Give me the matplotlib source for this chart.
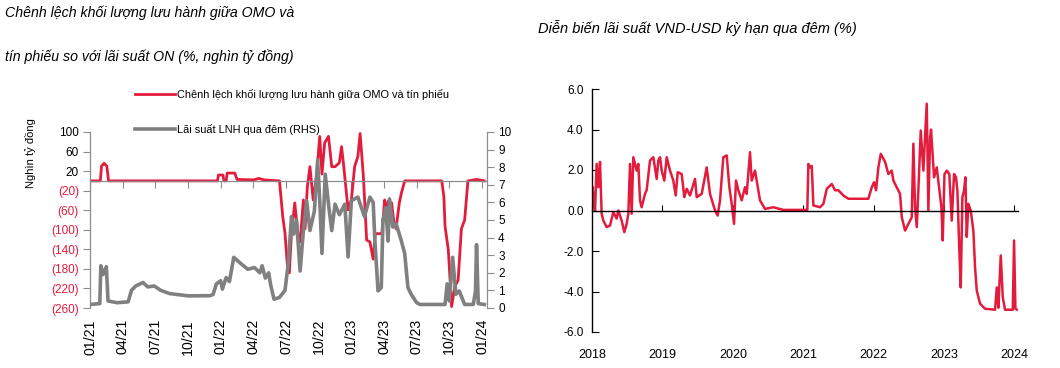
import matplotlib
matplotlib.use("Agg")
import matplotlib.pyplot as plt
from matplotlib import font_manager
from matplotlib.ticker import FixedLocator, FuncFormatter

# ---- left chart: OMO/T-bill gap (thousand bn VND) vs overnight interbank rate
gap_x = [2021.000, 2021.079, 2021.088, 2021.108, 2021.129, 2021.142, 2021.975, 2021.983,
         2022.017, 2022.025, 2022.042, 2022.050, 2022.108, 2022.125, 2022.250, 2022.292,
         2022.333, 2022.450, 2022.475, 2022.492, 2022.513, 2022.525, 2022.542, 2022.567,
         2022.592, 2022.608, 2022.633, 2022.646, 2022.663, 2022.683, 2022.708, 2022.733,
         2022.758, 2022.775, 2022.796, 2022.825, 2022.850, 2022.875, 2022.908, 2022.925,
         2022.942, 2022.975, 2023.000, 2023.025, 2023.050, 2023.067, 2023.092, 2023.117,
         2023.142, 2023.167, 2023.183, 2023.233, 2023.242, 2023.255, 2023.267, 2023.281,
         2023.308, 2023.325, 2023.342, 2023.367, 2023.383, 2023.408, 2023.692, 2023.708,
         2023.717, 2023.742, 2023.767, 2023.792, 2023.817, 2023.842, 2023.867, 2023.892,
         2023.958, 2024.017]
gap_val = [0, 0, 30, 36, 30, 0, 0, 12,
           12, 0, 0, 16, 16, 3, 2, 5,
           2, 0, -73, -107, -182, -188, -107, -45,
           -111, -125, -39, -98, -12, 29, -39, 9,
           91, 14, 78, 91, 29, 29, 37, 70,
           29, -59, -39, 29, 50, 97, 9, -121,
           -125, -160, -108, -108, -80, -39, -65, -42,
           -45, -84, -98, -45, -25, 0, 0, -33,
           -93, -141, -257, -216, -203, -98, -80, 0,
           3, 0]

on_x = [2021.000, 2021.075, 2021.083, 2021.100, 2021.125, 2021.138, 2021.208, 2021.292,
        2021.317, 2021.350, 2021.405, 2021.442, 2021.492, 2021.542, 2021.608, 2021.750,
        2021.917, 2021.942, 2021.967, 2022.000, 2022.013, 2022.042, 2022.067, 2022.100,
        2022.158, 2022.208, 2022.258, 2022.300, 2022.317, 2022.342, 2022.367, 2022.383,
        2022.408, 2022.450, 2022.492, 2022.517, 2022.542, 2022.558, 2022.580, 2022.608,
        2022.633, 2022.658, 2022.683, 2022.717, 2022.742, 2022.758, 2022.775, 2022.800,
        2022.825, 2022.850, 2022.875, 2022.908, 2022.950, 2022.975, 2023.000, 2023.050,
        2023.100, 2023.142, 2023.167, 2023.179, 2023.204, 2023.229, 2023.242, 2023.263,
        2023.281, 2023.292, 2023.317, 2023.342, 2023.383, 2023.408, 2023.433, 2023.458,
        2023.500, 2023.525, 2023.717, 2023.733, 2023.750, 2023.775, 2023.800, 2023.825,
        2023.867, 2023.933, 2023.950, 2023.958, 2023.971, 2024.017]
on_val = [0.2, 0.25, 2.4, 1.9, 2.35, 0.4, 0.3, 0.35,
          1.0, 1.25, 1.45, 1.2, 1.25, 1.0, 0.82, 0.69,
          0.7, 0.77, 1.37, 1.55, 1.07, 1.73, 1.5, 2.88,
          2.5, 2.2, 2.3, 2.0, 2.4, 1.7, 2.0, 1.3,
          0.5, 0.6, 1.0, 2.5, 5.2, 4.2, 5.0, 2.1,
          4.4, 6.1, 4.4, 5.5, 8.4, 6.1, 3.1, 7.6,
          5.9, 4.4, 5.9, 5.3, 5.9, 2.9, 6.1, 6.3,
          5.2, 6.3, 6.0, 4.0, 0.97, 1.16, 5.0, 5.7,
          3.8, 6.2, 4.6, 4.8, 3.8, 3.1, 1.16, 0.78,
          0.3, 0.2, 0.2, 1.37, 0.4, 2.88, 0.78, 0.97,
          0.2, 0.2, 0.97, 3.6, 0.25, 0.2]

left_xticks = [2021 + 0.25 * i for i in range(13)]
left_xlabels = ["01/21", "04/21", "07/21", "10/21", "01/22", "04/22", "07/22",
                "10/22", "01/23", "04/23", "07/23", "10/23", "01/24"]
left_yticks = [100, 60, 20, -20, -60, -100, -140, -180, -220, -260]
right_yticks = list(range(0, 11))

# ---- right chart: VND-USD overnight spread (%)
spr_x = [2018.000, 2018.010, 2018.019, 2018.043, 2018.066, 2018.090, 2018.114, 2018.137,
         2018.161, 2018.208, 2018.256, 2018.303, 2018.350, 2018.374, 2018.421, 2018.459,
         2018.492, 2018.516, 2018.540, 2018.563, 2018.587, 2018.634, 2018.658, 2018.682,
         2018.705, 2018.753, 2018.776, 2018.824, 2018.871, 2018.919, 2018.942, 2018.966,
         2018.990, 2019.027, 2019.061, 2019.108, 2019.155, 2019.189, 2019.217, 2019.274,
         2019.311, 2019.345, 2019.392, 2019.463, 2019.487, 2019.558, 2019.629, 2019.676,
         2019.747, 2019.785, 2019.818, 2019.865, 2019.913, 2019.951, 2019.984, 2020.017,
         2020.045, 2020.078, 2020.126, 2020.173, 2020.197, 2020.244, 2020.268, 2020.315,
         2020.362, 2020.386, 2020.457, 2020.575, 2020.717, 2021.058, 2021.073, 2021.097,
         2021.121, 2021.144, 2021.239, 2021.286, 2021.334, 2021.405, 2021.452, 2021.499,
         2021.570, 2021.641, 2021.925, 2021.973, 2022.006, 2022.034, 2022.067, 2022.101,
         2022.162, 2022.209, 2022.257, 2022.280, 2022.328, 2022.375, 2022.399, 2022.446,
         2022.493, 2022.541, 2022.564, 2022.588, 2022.612, 2022.635, 2022.669, 2022.706,
         2022.754, 2022.777, 2022.801, 2022.815, 2022.858, 2022.896, 2022.933, 2022.962,
         2022.981, 2023.006, 2023.040, 2023.074, 2023.109, 2023.142, 2023.170, 2023.189,
         2023.217, 2023.237, 2023.260, 2023.284, 2023.303, 2023.322, 2023.345, 2023.379,
         2023.416, 2023.440, 2023.464, 2023.511, 2023.582, 2023.724, 2023.749, 2023.771,
         2023.805, 2023.834, 2023.866, 2023.976, 2023.994, 2024.013, 2024.036]
spr_val = [0.0, 1.15, 0.66, 0.0, 2.3, 1.15, 2.4, -0.16,
           -0.5, -0.82, -0.74, -0.08, -0.4, 0.0, -0.5, -1.07,
           -0.66, -0.16, 2.3, -0.16, 2.63, 1.97, 2.3, 0.5,
           0.16, 0.82, 1.0, 2.47, 2.63, 1.56, 2.47, 2.63,
           1.97, 1.48, 2.63, 1.97, 1.48, 0.74, 1.89, 1.8,
           0.66, 1.07, 0.74, 1.56, 0.66, 0.82, 2.13, 0.82,
           0.0, -0.25, 0.5, 2.63, 2.72, 1.15, 0.33, -0.66,
           1.48, 1.0, 0.5, 1.15, 0.82, 2.88, 1.48, 1.97,
           1.0, 0.5, 0.08, 0.16, 0.03, 0.03, 2.3, 2.13,
           2.2, 0.25, 0.16, 0.33, 1.07, 1.31, 1.0, 1.0,
           0.74, 0.58, 0.58, 1.15, 1.4, 1.0, 2.13, 2.8,
           2.4, 1.8, 1.97, 1.48, 1.15, 0.82, -0.33, -0.99,
           -0.66, -0.33, 3.3, 0.16, -0.82, 1.0, 3.95, 1.97,
           5.27, 0.0, 3.6, 4.0, 1.64, 2.13, 1.0, 0.16,
           -1.48, 1.8, 1.97, 1.8, -0.5, 1.8, 1.64, 0.99,
           -1.97, -3.8, 0.66, 0.99, 1.64, -1.3, 0.33, 0.0,
           -1.0, -2.8, -3.95, -4.6, -4.85, -4.9, -3.8, -4.8,
           -2.22, -4.3, -4.9, -4.9, -1.48, -4.85, -4.9]

spr_yticks = [6, 4, 2, 0, -2, -4, -6]
spr_xticks = [2018, 2019, 2020, 2021, 2022, 2023, 2024]

title_left_1 = "Chênh lệch khối lượng lưu hành giữa OMO và"
title_left_2 = "tín phiếu so với lãi suất ON (%, nghìn tỷ đồng)"
title_right = "Diễn biến lãi suất VND-USD kỳ hạn qua đêm (%)"
legend_labels = ["Chênh lệch khối lượng lưu hành giữa OMO và tín phiếu",
                 "Lãi suất LNH qua đêm (RHS)"]
ylabel_left = "Nghìn tỷ đồng"

RED = "#E31B3C"
GRAY = "#808080"
AXIS_GRAY = "#8C8C8C"


def pick_font(names):
    for n in names:
        try:
            font_manager.findfont(n, fallback_to_default=False)
            return n
        except Exception:
            continue
    return "DejaVu Sans"


plt.rcParams["font.family"] = [pick_font(["Liberation Sans"]), "DejaVu Sans"]

W, H = 1060, 368
fig = plt.figure(figsize=(W / 100, H / 100), dpi=100)


def box(x0, y0, x1, y1):
    return [x0 / W, 1 - y1 / H, (x1 - x0) / W, (y1 - y0) / H]


# titles
fig.text(5 / W, 1 - 13 / H, title_left_1, style="italic", fontsize=10.2, va="center")
fig.text(5 / W, 1 - 57 / H, title_left_2, style="italic", fontsize=10.2, va="center")
fig.text(538 / W, 1 - 28 / H, title_right, style="italic", fontsize=10.5, va="center")

# ---------------- left chart
ax = fig.add_axes(box(90, 132, 487, 308))
ax2 = ax.twinx()
ax.set_zorder(1)
ax2.set_zorder(2)
ax.patch.set_visible(False)
ax2.patch.set_visible(False)

l1, = ax.plot(gap_x, gap_val, color=RED, lw=2.0, solid_joinstyle="round")
l2, = ax2.plot(on_x, on_val, color=GRAY, lw=2.6, solid_joinstyle="round")

ax.set_xlim(2021.0, 2024.038)
ax.set_ylim(-260, 100)
ax2.set_ylim(0, 10)

for s in ["top", "right"]:
    ax.spines[s].set_visible(False)
for s in ["top", "left", "bottom"]:
    ax2.spines[s].set_visible(False)
ax.spines["bottom"].set_position(("data", 0))
for s in ["left", "bottom"]:
    ax.spines[s].set_color(AXIS_GRAY)
    ax.spines[s].set_linewidth(0.9)
ax2.spines["right"].set_color(AXIS_GRAY)
ax2.spines["right"].set_linewidth(0.9)

ax.yaxis.set_major_locator(FixedLocator(left_yticks))
ax.yaxis.set_major_formatter(FuncFormatter(lambda v, p: f"{v:.0f}" if v >= 0 else f"({-v:.0f})"))
ax.tick_params(axis="y", direction="out", length=5, color=AXIS_GRAY, labelsize=8.5, pad=3)
for t, v in zip(ax.get_yticklabels(), left_yticks):
    t.set_color(RED if v < 0 else "black")

ax2.yaxis.set_major_locator(FixedLocator(right_yticks))
ax2.tick_params(axis="y", direction="out", length=5, color=AXIS_GRAY, labelsize=8.5, pad=3)

ax.set_xticks(left_xticks)
ax.tick_params(axis="x", direction="out", length=5, color=AXIS_GRAY, labelbottom=False)
secx = ax.secondary_xaxis("bottom")
secx.set_xticks(left_xticks)
secx.set_xticklabels(left_xlabels, rotation=90, fontsize=10.2)
secx.tick_params(length=0, pad=8)
secx.spines["bottom"].set_visible(False)

fig.text(30 / W, 1 - 153 / H, ylabel_left, rotation=90, ha="center", va="center", fontsize=8)

fig.legend([l1, l2], legend_labels, loc="upper left", bbox_to_anchor=(135 / W, 1 - 89 / H),
           frameon=False, fontsize=7.9, handlelength=3.6, handletextpad=0.25, labelspacing=2.15,
           borderpad=0, borderaxespad=0)

# ---------------- right chart
bx = fig.add_axes(box(592, 89, 1018, 332))
bx.plot(spr_x, spr_val, color=RED, lw=1.8, solid_joinstyle="round")
bx.set_xlim(2018.0, 2024.05)
bx.set_ylim(-6, 6)
for s in ["top", "right"]:
    bx.spines[s].set_visible(False)
bx.spines["bottom"].set_position(("data", 0))
bx.spines["left"].set_linewidth(1.0)
bx.spines["bottom"].set_linewidth(1.0)
bx.yaxis.set_major_locator(FixedLocator(spr_yticks))
bx.yaxis.set_major_formatter(FuncFormatter(lambda v, p: f"{v:.1f}"))
bx.tick_params(axis="y", direction="in", length=5, labelsize=8.5, pad=6)
bx.set_xticks(spr_xticks)
bx.tick_params(axis="x", direction="in", length=4, labelbottom=False)
secb = bx.secondary_xaxis("bottom")
secb.set_xticks(spr_xticks)
secb.set_xticklabels([str(y) for y in spr_xticks], fontsize=9)
secb.tick_params(length=0, pad=12)
secb.spines["bottom"].set_visible(False)

fig.savefig("out.png", dpi=100)
